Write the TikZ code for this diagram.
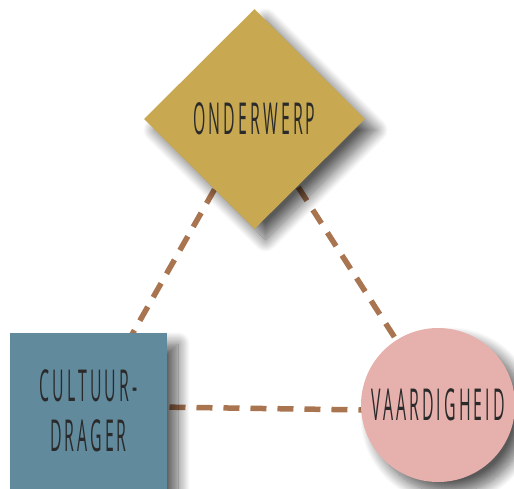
\documentclass[tikz,border=0pt]{standalone}
\usepackage{fontspec}
\newfontfamily\labelfont[FakeStretch=0.36,LetterSpace=7]{Open Sans}
\usetikzlibrary{shapes.geometric,shadows.blur}
\pgfdeclarelayer{background}
\pgfsetlayers{background,main}
\definecolor{gold}{HTML}{C8A951}
\definecolor{steel}{HTML}{628A9D}
\definecolor{rose}{HTML}{E6B0AC}
\definecolor{link}{HTML}{A97450}
\definecolor{ink}{HTML}{2A2A2A}
\tikzset{
  x=1pt, y=-1pt,
  shape base/.style={draw=none, inner sep=0pt, text=ink,
    font=\labelfont\fontsize{44}{50}\selectfont, align=center,
    blur shadow={shadow xshift=11pt, shadow yshift=-11pt,
      shadow blur radius=12pt, shadow blur steps=16, shadow opacity=65}},
  topicbox/.style={shape base, diamond, fill=gold, aspect=1,
    minimum width=221pt, minimum height=220pt},
  carrierbox/.style={shape base, rectangle, fill=steel,
    minimum width=157pt, minimum height=156pt},
  skillbox/.style={shape base, circle, fill=rose, minimum size=154pt},
  linkline/.style={draw=link, line width=5.5pt, dash pattern=on 16pt off 11pt}
}
\begin{document}
\begin{tikzpicture}
  \useasboundingbox (0,0) rectangle (514,488);
  \node[topicbox]   (dia)  at (254.5,119) {ONDERWERP};
  \node[carrierbox] (sq)   at (88.5,411)  {CULTUUR-\\DRAGER};
  \node[skillbox]   (circ) at (438,405)   {VAARDIGHEID};
  \begin{pgfonlayer}{background}
    \draw[linkline] (dia.center) -- (sq.center);
    \draw[linkline] (dia.center) -- (circ.center);
    \draw[linkline] ([yshift=5pt]sq.center) -- ([yshift=-6pt]circ.center);
  \end{pgfonlayer}
\end{tikzpicture}
\end{document}
